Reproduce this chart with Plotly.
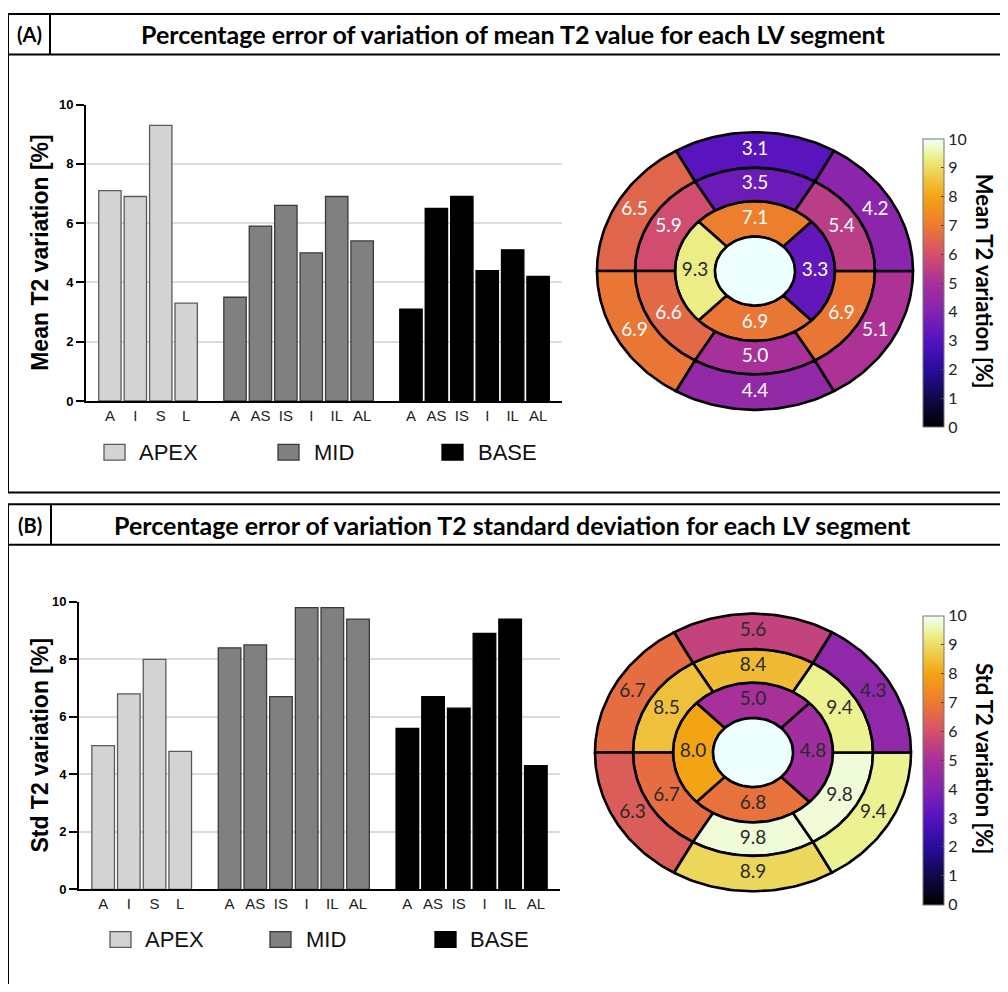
import numpy as np
import plotly.graph_objects as go
from plotly.colors import sample_colorscale

# page is 1008x992; body keeps an 8px margin, so the figure is 992x976 at (8, 8)
OFF = 8
FW, FH = 1008 - 2 * OFF, 992 - 2 * OFF

# ---------------- data ----------------
group_names = ["APEX", "MID", "BASE"]
apex_labels = ["A", "I", "S", "L"]
mid_labels = ["A", "AS", "IS", "I", "IL", "AL"]
base_labels = ["A", "AS", "IS", "I", "IL", "AL"]

mean_apex = [7.1, 6.9, 9.3, 3.3]
mean_mid = [3.5, 5.9, 6.6, 5.0, 6.9, 5.4]
mean_base = [3.1, 6.5, 6.9, 4.4, 5.1, 4.2]

std_apex = [5.0, 6.8, 8.0, 4.8]
std_mid = [8.4, 8.5, 6.7, 9.8, 9.8, 9.4]
std_base = [5.6, 6.7, 6.3, 8.9, 9.4, 4.3]

y_ticks = [0, 2, 4, 6, 8, 10]
cbar_ticks = list(range(0, 11))

panel_titles = ["Percentage error of variation of mean T2 value for each LV segment",
                "Percentage error of variation T2 standard deviation for each LV segment"]
panel_tags = ["(A)", "(B)"]
bar_ytitles = ["Mean T2 variation [%]", "Std T2 variation [%]"]
cbar_titles = ["Mean T2 variation [%]", "Std T2 variation [%]"]

# ---------------- styles ----------------
cscale = [
    [0.0, "rgb(0,0,0)"],
    [0.1, "rgb(14,10,74)"],
    [0.2, "rgb(42,12,156)"],
    [0.3, "rgb(84,18,192)"],
    [0.4, "rgb(132,36,176)"],
    [0.5, "rgb(168,48,154)"],
    [0.6, "rgb(212,80,106)"],
    [0.7, "rgb(236,122,48)"],
    [0.8, "rgb(242,164,20)"],
    [0.9, "rgb(236,220,100)"],
    [0.94, "rgb(236,242,146)"],
    [0.98, "rgb(240,252,215)"],
    [1.0, "rgb(238,255,255)"],
]
bar_fill = {"APEX": "#d3d3d3", "MID": "#808080", "BASE": "#000000"}
bar_line = {"APEX": "#5a5a5a", "MID": "#3a3a3a", "BASE": "#000000"}
GAP = 0.92
BW = 0.88


def px(x):
    return (x - OFF) / FW


def py(y):
    return 1 - (y - OFF) / FH


fig = go.Figure()
shapes = []
annotations = []


def bar_positions():
    pos = {}
    start = 0.0
    for g, labels in zip(group_names, [apex_labels, mid_labels, base_labels]):
        pos[g] = [start + i for i in range(len(labels))]
        start += len(labels) + GAP
    return pos


POS = bar_positions()

panels = [
    dict(vals=[mean_apex, mean_mid, mean_base], xdom=(86, 562), ydom=(99, 400), ytx=40,
         leg_y=452, leg_x=[(104, 137), (278, 312), (442, 476)],
         center=(755, 268), cbar=(134, 422), top=7, bottom=493, head=48, tagx=50,
         text_dark_above=9.0),
    dict(vals=[std_apex, std_mid, std_base], xdom=(79, 560), ydom=(604, 896), ytx=40,
         leg_y=947, leg_x=[(110, 143), (270, 304), (435, 468)],
         center=(753, 757), cbar=(618, 907), top=505, bottom=None, head=546, tagx=51,
         text_dark_above=0.0),
]

RX = [40, 80, 120, 158]
RY = [35, 71, 105, 141]


def seg_path(rxi, ryi, rxo, ryo, t0, t1, n=48):
    t = np.radians(np.linspace(t0, t1, n))
    xo, yo = rxo * np.cos(t), ryo * np.sin(t)
    tr = t[::-1]
    xi, yi = rxi * np.cos(tr), ryi * np.sin(tr)
    return np.concatenate([xo, xi, xo[:1]]), np.concatenate([yo, yi, yo[:1]])


def ann(x, y, text, font, **kw):
    d = dict(x=px(x), y=py(y), xref="paper", yref="paper", text=text, showarrow=False,
             xanchor="center", yanchor="middle", font=font)
    d.update(kw)
    annotations.append(d)


for k, P in enumerate(panels):
    xa = "x" if k == 0 else "x%d" % (2 * k + 1)
    ya = "y" if k == 0 else "y%d" % (2 * k + 1)
    xb = "x%d" % (2 * k + 2)
    yb = "y%d" % (2 * k + 2)
    # ---- bars ----
    tickv, tickt = [], []
    for g, labels, vals in zip(group_names, [apex_labels, mid_labels, base_labels], P["vals"]):
        fig.add_trace(go.Bar(x=POS[g], y=vals, width=BW, name=g, showlegend=False,
                             marker=dict(color=bar_fill[g], line=dict(color=bar_line[g], width=1.3)),
                             xaxis=xa, yaxis=ya, hoverinfo="y"))
        tickv += POS[g]
        tickt += labels
    axn = "" if k == 0 else str(2 * k + 1)
    x0, x1 = P["xdom"]
    y0, y1 = P["ydom"]
    fig.layout["xaxis" + axn] = dict(domain=[px(x0), px(x1)], anchor=ya,
                                     range=[-0.94, POS["BASE"][-1] + 0.94],
                                     tickvals=tickv, ticktext=tickt, showline=True, linecolor="black",
                                     linewidth=2, ticks="", showgrid=False, zeroline=False,
                                     tickfont=dict(family="Liberation Sans", size=15, color="#222"))
    fig.layout["yaxis" + axn] = dict(domain=[py(y1), py(y0)], anchor=xa, range=[0, 10], tickvals=y_ticks,
                                     showline=True, linecolor="black", linewidth=2, ticks="outside",
                                     ticklen=8, tickwidth=2, tickcolor="black", showgrid=True,
                                     gridcolor="#dcdcdc", gridwidth=1.5, zeroline=False,
                                     tickfont=dict(family="Liberation Sans", size=13, color="black",
                                                   weight="bold"))
    ann(P["ytx"], (y0 + y1) / 2, bar_ytitles[k],
        dict(family="Liberation Sans", size=23, color="black", weight="bold"), textangle=-90)
    # legend
    for g, (bx, tx) in zip(group_names, P["leg_x"]):
        ly = P["leg_y"]
        shapes.append(dict(type="rect", xref="paper", yref="paper", x0=px(bx), x1=px(bx + 21),
                           y0=py(ly + 8), y1=py(ly - 8), fillcolor=bar_fill[g],
                           line=dict(color=bar_line[g], width=1.3)))
        ann(tx, ly, g, dict(family="Liberation Sans", size=22, color="#111"), xanchor="left")
    # ---- bullseye ----
    cx, cy = P["center"]
    bn = str(2 * k + 2)
    fig.layout["xaxis" + bn] = dict(domain=[px(cx - 165), px(cx + 165)], range=[-165, 165],
                                    visible=False, anchor=yb)
    fig.layout["yaxis" + bn] = dict(domain=[py(cy + 150), py(cy - 150)], range=[-150, 150],
                                    visible=False, anchor=xb)
    vals_apex, vals_mid, vals_base = P["vals"]
    c0, c1 = P["cbar"]
    fig.add_trace(go.Scatter(x=[0], y=[0], mode="markers", xaxis=xb, yaxis=yb, showlegend=False,
                             hoverinfo="skip",
                             marker=dict(size=1, opacity=0, color=[0], cmin=0, cmax=10,
                                         colorscale=cscale, showscale=True,
                                         colorbar=dict(x=px(923), xanchor="left", y=py(c0),
                                                       yanchor="top", len=c1 - c0, lenmode="pixels",
                                                       xpad=0, ypad=0,
                                                       thickness=21, thicknessmode="pixels",
                                                       outlinewidth=1, outlinecolor="#777",
                                                       tickvals=cbar_ticks, ticks="inside",
                                                       ticklen=3, tickcolor="#444",
                                                       tickfont=dict(family="Lato", size=16,
                                                                     color="#222")))))
    ann(984, (c0 + c1) / 2, cbar_titles[k],
        dict(family="Lato", size=22, color="black", weight="bold"), textangle=90)
    rings = [
        (vals_apex, [90, 270, 180, 0], 90, RX[0], RY[0], RX[1], RY[1]),
        (vals_mid, [90, 150, 210, 270, 330, 30], 60, RX[1], RY[1], RX[2], RY[2]),
        (vals_base, [90, 150, 210, 270, 330, 30], 60, RX[2], RY[2], RX[3], RY[3]),
    ]
    tx_list, ty_list, tt, tc = [], [], [], []
    for vals, angs, span, rxi, ryi, rxo, ryo in rings:
        for v, a in zip(vals, angs):
            xs, ys = seg_path(rxi, ryi, rxo, ryo, a - span / 2, a + span / 2)
            col = sample_colorscale(cscale, [v / 10])[0]
            fig.add_trace(go.Scatter(x=xs, y=ys, mode="lines", fill="toself", fillcolor=col,
                                     line=dict(color="black", width=2.6), xaxis=xb, yaxis=yb,
                                     showlegend=False, hoverinfo="skip"))
            ar = np.radians(a)
            tx_list.append((rxi + rxo) / 2 * np.cos(ar))
            ty_list.append((ryi + ryo) / 2 * np.sin(ar))
            tt.append("%.1f" % v)
            tc.append("#2a2a2a" if v >= P["text_dark_above"] else "white")
    # apex cap
    t = np.radians(np.linspace(0, 360, 97))
    fig.add_trace(go.Scatter(x=RX[0] * np.cos(t), y=RY[0] * np.sin(t), mode="lines", fill="toself",
                             fillcolor=sample_colorscale(cscale, [1.0])[0],
                             line=dict(color="black", width=2.6), xaxis=xb, yaxis=yb,
                             showlegend=False, hoverinfo="skip"))
    fig.add_trace(go.Scatter(x=tx_list, y=ty_list, mode="text", text=tt, xaxis=xb, yaxis=yb,
                             textfont=dict(family="Lato", size=19, color=tc), showlegend=False,
                             hoverinfo="skip"))
    # ---- frame ----
    top, head, tagx = P["top"], P["head"], P["tagx"]
    bot = P["bottom"] if P["bottom"] is not None else 1100
    lw = dict(color="black", width=2)
    L = 8
    shapes += [
        dict(type="line", xref="paper", yref="paper", x0=px(L), x1=px(1100), y0=py(top), y1=py(top), line=lw),
        dict(type="line", xref="paper", yref="paper", x0=px(L), x1=px(L), y0=py(top), y1=py(bot), line=lw),
        dict(type="line", xref="paper", yref="paper", x0=px(L), x1=px(1100), y0=py(head), y1=py(head), line=lw),
        dict(type="line", xref="paper", yref="paper", x0=px(tagx), x1=px(tagx), y0=py(top), y1=py(head), line=lw),
    ]
    if P["bottom"] is not None:
        shapes.append(dict(type="line", xref="paper", yref="paper", x0=px(L), x1=px(1100),
                           y0=py(bot), y1=py(bot), line=lw))
    ann((L + tagx) / 2, (top + head) / 2, panel_tags[k],
        dict(family="Lato", size=20, color="black", weight="bold"))
    ann(513, (top + head) / 2, panel_titles[k],
        dict(family="Lato", size=25, color="black", weight="bold"))

fig.update_layout(width=FW, height=FH, autosize=False, margin=dict(l=0, r=0, t=0, b=0),
                  paper_bgcolor="white", plot_bgcolor="white", shapes=shapes,
                  annotations=annotations, barmode="overlay", showlegend=False)

fig.write_html("out.html")
